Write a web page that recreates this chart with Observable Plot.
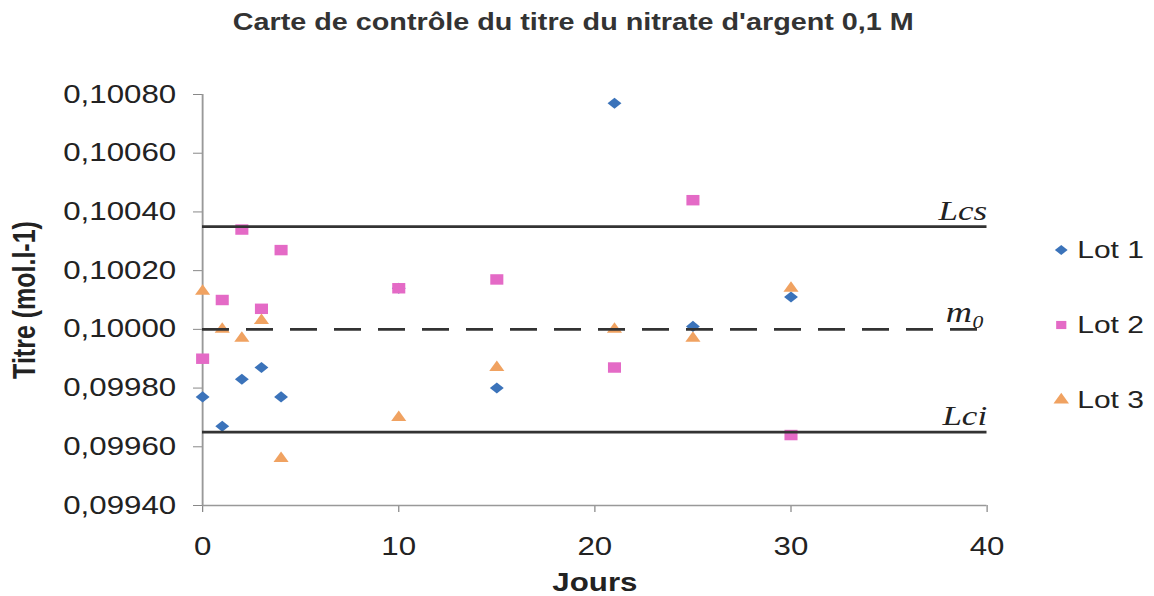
<!DOCTYPE html>
<html>
<head>
<meta charset="utf-8">
<script src="https://cdn.jsdelivr.net/npm/d3@7"></script>
<script src="https://cdn.jsdelivr.net/npm/@observablehq/plot@0.6"></script>
<style>
  html, body { margin: 0; padding: 0; background: #fff; overflow: hidden; }
  #wrap { position: relative; width: 923.2px; height: 596px; transform: scaleX(1.25); transform-origin: 0 0;
          font-family: "Liberation Sans", Arial, sans-serif; color: #222; }
  #title { height: 44px; line-height: 44px; text-align: center; padding-right: 6px;
           font-weight: bold; font-size: 23px; color: #333; }
  #chart svg g[aria-label="y-axis label"], #chart svg g[aria-label="x-axis label"] { font-weight: bold; }
  #legend { position: absolute; left: 840.8px; top: 212.5px; }
  #legend .lg-swatches-wrap { display: flex; flex-direction: column; align-items: flex-start; margin: 0;
          font-family: "Liberation Sans", Arial, sans-serif; font-size: 24px; color: #222; }
  #legend .lg-swatches-wrap .lg-swatch { display: flex; align-items: center; height: 75px; margin: 0; }
  #legend .lg-swatch > svg { margin-right: 5px; }
</style>
</head>
<body>
<div id="wrap">
  <div id="title">Carte de contrôle du titre du nitrate d'argent 0,1 M</div>
  <div id="chart"></div>
  <div id="legend"></div>
</div>
<script>
// ---- data ----
const days = [0, 1, 2, 3, 4, 10, 15, 21, 25, 30];
const lot1 = [0.09977, 0.09967, 0.09983, 0.09987, 0.09977, 0.10014, 0.09980, 0.10077, 0.10001, 0.10011];
const lot2 = [0.09990, 0.10010, 0.10034, 0.10007, 0.10027, 0.10014, 0.10017, 0.09987, 0.10044, 0.09964];
const lot3 = [0.10013, 0.10000, 0.09997, 0.10003, 0.09956, 0.09970, 0.09987, 0.10000, 0.09997, 0.10014];
const lots = ["Lot 1", "Lot 2", "Lot 3"];
const lotColors = ["#3b73ba", "#e46ac6", "#f0a261"];
const lotSymbols = ["diamond2", "square", "triangle"];
const limitNames = ["Lcs", "Lci"];
const limitValues = [0.10035, 0.09965];
const meanName = "m\u2080";
const meanValue = 0.10000;
const yTicks = [0.0994, 0.0996, 0.0998, 0.1000, 0.1002, 0.1004, 0.1006, 0.1008];
const xTicks = [0, 10, 20, 30, 40];
const xLabel = "Jours";
const yLabel = "Titre (mol.l-1)";

// ---- tables built from the arrays ----
const series = [lot1, lot2, lot3];
const rowsFor = (i) => days.map((d, j) => ({day: d, titre: series[i][j], lot: lots[i]}));
const limits = limitNames.map((n, i) => ({name: n, value: limitValues[i]}));
const meanRow = [{name: meanName, value: meanValue}];
const fmt = d => d.toFixed(5).replace(".", ",");
const serif = '"Liberation Serif", "DejaVu Serif", serif';

const plot = Plot.plot({
  width: 810,
  height: 552,
  marginLeft: 161.6,
  marginRight: 20.8,
  marginTop: 50,
  marginBottom: 91,
  style: {fontFamily: '"Liberation Sans", Arial, sans-serif', color: "#222", background: "#fff", overflow: "visible"},
  x: {domain: [0, 40]},
  y: {domain: [0.0994, 0.1008]},
  color: {domain: lots, range: lotColors},
  symbol: {domain: lots, range: lotSymbols},
  marks: [
    Plot.axisY({ticks: yTicks, tickFormat: fmt, tickSize: 7.2, tickPadding: 14, fontSize: 25,
      stroke: "#888", label: yLabel, labelAnchor: "center", labelOffset: 152, labelArrow: "none"}),
    Plot.axisX({ticks: xTicks, tickSize: 7, tickPadding: 25, fontSize: 25,
      stroke: "#888", label: xLabel, labelAnchor: "center", labelOffset: 85, labelArrow: "none"}),
    Plot.ruleX([0], {stroke: "#999", strokeWidth: 1.5}),
    Plot.ruleY([yTicks[0]], {stroke: "#999", strokeWidth: 1.5}),
    Plot.dot(rowsFor(0), {x: "day", y: "titre", fill: "lot", symbol: "lot", r: 5}),
    Plot.dot(rowsFor(1), {x: "day", y: "titre", fill: "lot", symbol: "lot", r: 5.9}),
    Plot.dot(rowsFor(2), {x: "day", y: "titre", fill: "lot", symbol: "lot", r: 4.5}),
    Plot.ruleY(limits, {y: "value", stroke: "#333", strokeWidth: 2.8}),
    Plot.ruleY(meanRow, {y: "value", stroke: "#333", strokeWidth: 2.8, strokeDasharray: "21.6,13.6"}),
    Plot.text(limits, {x: () => 40, y: "value", text: "name", textAnchor: "end", dy: -16,
      fontFamily: serif, fontStyle: "italic", fontSize: 28, fill: "#222"}),
    Plot.text(meanRow, {x: () => 40, y: "value", text: "name", textAnchor: "end", dx: -2, dy: -17,
      fontFamily: serif, fontStyle: "italic", fontSize: 29, fill: "#222"})
  ]
});
document.getElementById("chart").appendChild(plot);
const leg = plot.legend("symbol", {className: "lg", r: 4.6, swatchSize: 16});
if (leg) document.getElementById("legend").appendChild(leg);
</script>
</body>
</html>
